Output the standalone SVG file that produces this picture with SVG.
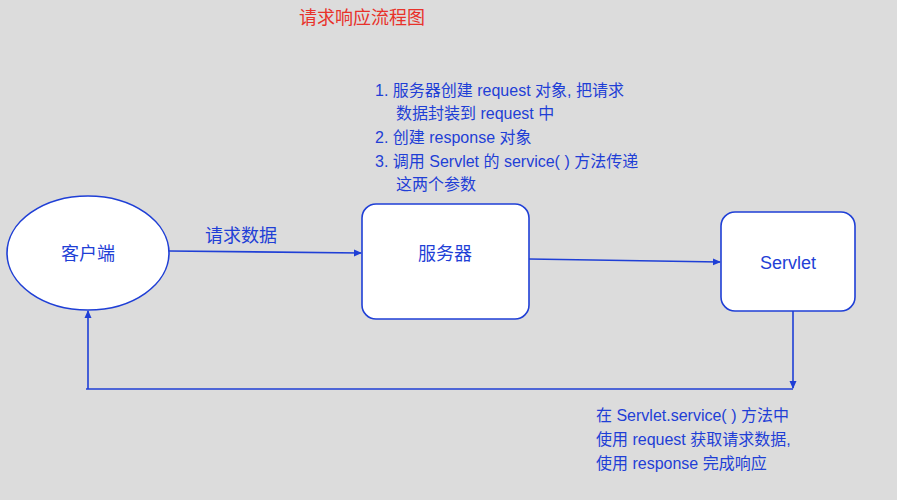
<svg xmlns="http://www.w3.org/2000/svg" width="897" height="500" viewBox="0 0 897 500">
<style>
text{font-family:"Liberation Sans","Noto Sans CJK SC",sans-serif;fill:#1f3fd6;font-size:16px}
.n{fill:#fff;stroke:#1f3fd6;stroke-width:1.6}
.c{stroke:#1f3fd6;stroke-width:1.6;fill:none}
.big{font-size:18px}
</style>
<defs><marker id="a" markerWidth="8" markerHeight="8" refX="7" refY="4" orient="auto" markerUnits="userSpaceOnUse"><path d="M0,0.5L8,4L0,7.5Z" fill="#1f3fd6"/></marker></defs>
<rect width="897" height="500" fill="#dcdcdc"/>
<text x="362" y="24" text-anchor="middle" style="fill:#e8322a" class="big">请求响应流程图</text>
<g id="client"><ellipse class="n" cx="88" cy="253" rx="81" ry="57"/><text x="88" y="260" text-anchor="middle" class="big">客户端</text></g>
<g id="server"><rect class="n" x="362" y="204" width="167" height="115" rx="14"/><text x="445" y="260" text-anchor="middle" class="big">服务器</text></g>
<g id="servlet"><rect class="n" x="721" y="212" width="134" height="99" rx="14"/><text x="788" y="269" text-anchor="middle" class="big">Servlet</text></g>
<g id="connectors">
<path class="c" d="M169,251L361,253" marker-end="url(#a)"/>
<path class="c" d="M529,259L720,262" marker-end="url(#a)"/>
<path class="c" d="M793,311V388" marker-end="url(#a)"/>
<path class="c" d="M793,389H86"/>
<path class="c" d="M88,389V311" marker-end="url(#a)"/>
</g>
<text x="205" y="242" class="big">请求数据</text>
<text x="375" y="96">1. 服务器创建 request 对象, 把请求</text>
<text x="396" y="119">数据封装到 request 中</text>
<text x="375" y="143">2. 创建 response 对象</text>
<text x="375" y="167">3. 调用 Servlet 的 service( ) 方法传递</text>
<text x="396" y="190">这两个参数</text>
<text x="596" y="421">在 Servlet.service( ) 方法中</text>
<text x="596" y="445">使用 request 获取请求数据,</text>
<text x="596" y="469">使用 response 完成响应</text>
</svg>
